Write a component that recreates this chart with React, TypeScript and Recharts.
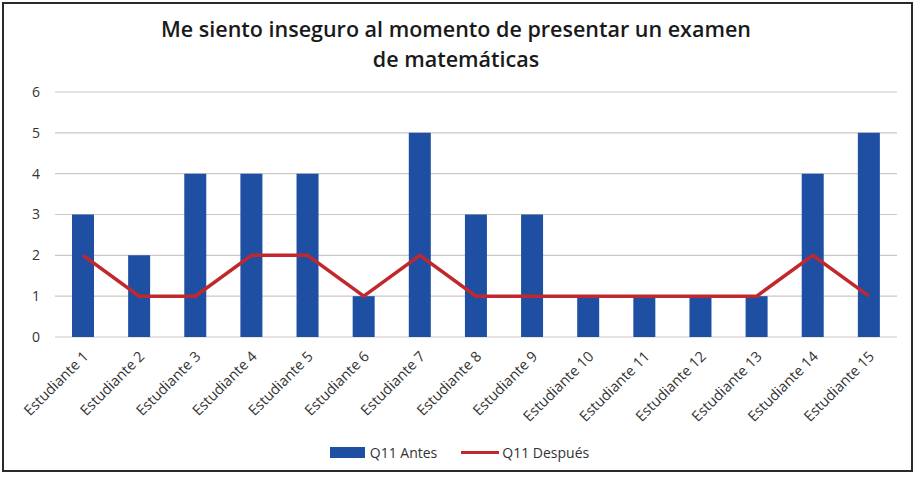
import React from 'react';
import { ComposedChart, Bar, Line, XAxis, YAxis, CartesianGrid, Legend } from 'recharts';

const categories = ['Estudiante 1','Estudiante 2','Estudiante 3','Estudiante 4','Estudiante 5','Estudiante 6','Estudiante 7','Estudiante 8','Estudiante 9','Estudiante 10','Estudiante 11','Estudiante 12','Estudiante 13','Estudiante 14','Estudiante 15'];
const antes = [3,2,4,4,4,1,5,3,3,1,1,1,1,4,5];
const despues = [2,1,1,2,2,1,2,1,1,1,1,1,1,2,1];
const yTicks = [0,1,2,3,4,5,6];

const data = categories.map((name, i) => ({ name, antes: antes[i], despues: despues[i] }));

const FONT = '"Open Sans", "Noto Sans", sans-serif';
const BLUE = '#1F4FA3';
const RED = '#C0282D';

const XTick = (props: any) => {
  const { x, y, payload } = props;
  return (
    <g transform={`translate(${x - 1},${y + 5}) rotate(-45)`}>
      <text x={0} y={0} dy="0.71em" textAnchor="end" fill="#333" fontSize={14.5} fontFamily={FONT}>
        {payload.value}
      </text>
    </g>
  );
};

const LegendContent = () => (
  <div style={{ display: 'flex', justifyContent: 'center', alignItems: 'center', height: 20, fontFamily: FONT, fontSize: 14, color: '#333', paddingLeft: 22 }}>
    <span style={{ display: 'inline-block', width: 35, height: 11, background: BLUE, marginRight: 5 }} />
    <span style={{ marginRight: 24 }}>Q11 Antes</span>
    <span style={{ display: 'inline-block', width: 38, height: 3, background: RED, marginRight: 3 }} />
    <span>Q11 Después</span>
  </div>
);

export default function App() {
  return (
    <div style={{ position: 'absolute', left: 0, top: 0, width: 918, height: 477, background: '#fff' }}>
      <div style={{ position: 'absolute', left: 2, top: 2, width: 907, height: 466, border: '2px solid #2a2a2a' }} />
      <svg style={{ position: 'absolute', left: 0, top: 0 }} width={918} height={90}>
        <text x={456} y={37} textAnchor="middle" fontFamily={FONT} fontSize={21.5} fontWeight={600} fill="#1a1a1a">
          Me siento inseguro al momento de presentar un examen
        </text>
        <text x={456} y={67} textAnchor="middle" fontFamily={FONT} fontSize={21.5} fontWeight={600} fill="#1a1a1a">
          de matemáticas
        </text>
      </svg>
      <div style={{ position: 'absolute', left: 0, top: 0 }}>
        <ComposedChart width={918} height={477} data={data} margin={{ top: 92, right: 21, bottom: 15, left: 0 }} barCategoryGap="30%">
          <CartesianGrid horizontal vertical={false} stroke="#CFC7C3" strokeWidth={1.2} />
          <XAxis dataKey="name" axisLine={false} tickLine={false} interval={0} height={105} tick={<XTick />} />
          <YAxis domain={[0, 6]} ticks={yTicks} axisLine={false} tickLine={false} width={55} tickMargin={9}
            tick={{ fill: '#333', fontSize: 14, fontFamily: FONT }} />
          <Legend verticalAlign="bottom" height={20} content={<LegendContent />} />
          <Bar dataKey="antes" name="Q11 Antes" fill={BLUE} barSize={22} isAnimationActive={false} />
          <Line dataKey="despues" name="Q11 Después" type="linear" stroke={RED} strokeWidth={3.5} dot={false} activeDot={false} isAnimationActive={false} />
        </ComposedChart>
      </div>
    </div>
  );
}
